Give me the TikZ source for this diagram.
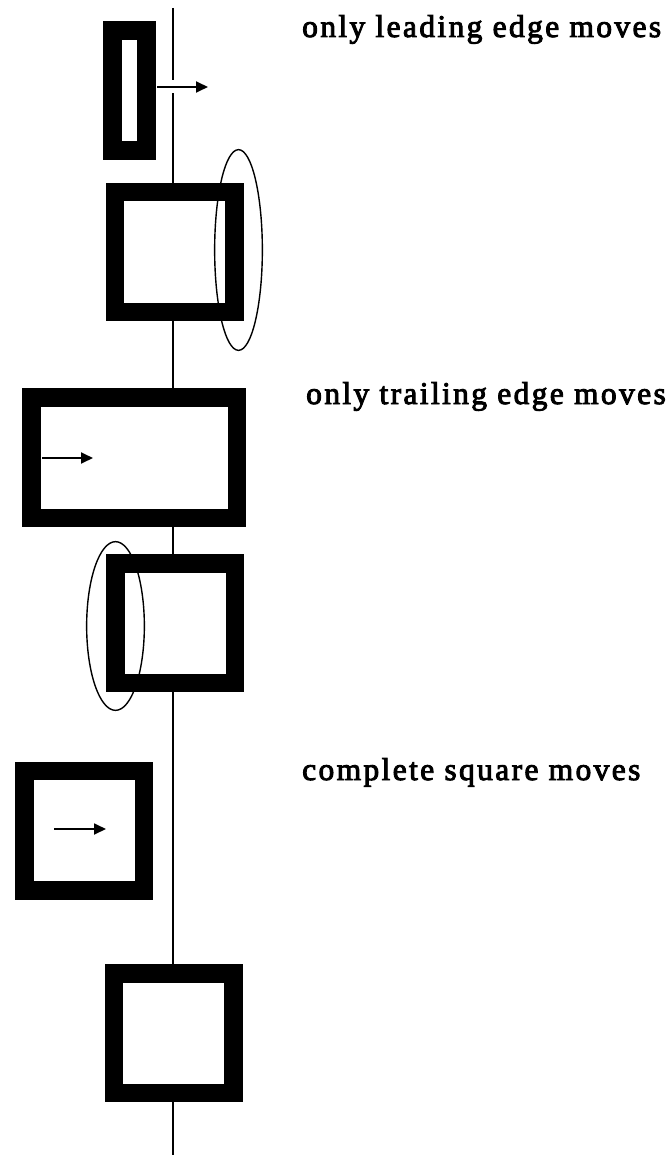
\documentclass[tikz,border=0pt]{standalone}
\usepackage{fontspec}
\setmainfont[LetterSpace=7.5,FakeBold=3]{Liberation Serif}
\usetikzlibrary{arrows.meta,shapes.geometric,positioning}

\begin{document}
\begin{tikzpicture}[x=1pt, y=-1pt,
  frame/.style={draw=black, fill=white, line width=18.5pt, inner sep=0pt, outer sep=0pt,
    minimum width=119.5pt, minimum height=119.5pt},
  loop/.style={draw=black, line width=1.4pt, ellipse, inner sep=0pt, outer sep=0pt},
  move/.style={line width=1.8pt, -{Triangle[length=12pt,width=11pt]}},
  caption/.style={anchor=base west, inner sep=0pt, font=\fontsize{31.5}{36}\selectfont}]
\useasboundingbox (0,0) rectangle (670,1155);
% the dividing line
\coordinate (top) at (173,8);
\coordinate (bottom) at (173,1155);
\draw [line width=2pt] (top) -- (bottom);
% leading edge
\node [frame, minimum width=34pt, minimum height=120pt] (f1) at (129.5,90.5) {};
\coordinate (a1s) at (157,87);
\coordinate (a1e) at (208,87);
\draw [white, line width=13pt] (a1s) -- ++(30,0);
\draw [move] (a1s) -- (a1e);
\node [caption] (t1) at (302,37) {only leading edge moves};
\node [frame] (f2) at (174.5,252) {};
\node [loop, minimum width=47.7pt, minimum height=200.7pt] (e1) at (238.5,250) {};
% trailing edge
\node [frame, minimum width=205.5pt, minimum height=120.5pt] (f3) at (134,457.5) {};
\coordinate (a2s) at (42,458);
\coordinate (a2e) at (93,458);
\draw [move] (a2s) -- (a2e);
\node [caption] (t2) at (306,404) {only trailing edge moves};
\node [frame] (f4) at (175,623) {};
\node [loop, minimum width=57.7pt, minimum height=168.7pt] (e2) at (115.5,626) {};
% whole square
\node [frame] (f5) at (84,830.5) {};
\coordinate (a3s) at (54,829);
\coordinate (a3e) at (106,829);
\draw [move] (a3s) -- (a3e);
\node [caption] (t3) at (302,780) {complete square moves};
\node [frame] (f6) at (173.5,1033) {};
\end{tikzpicture}
\end{document}
